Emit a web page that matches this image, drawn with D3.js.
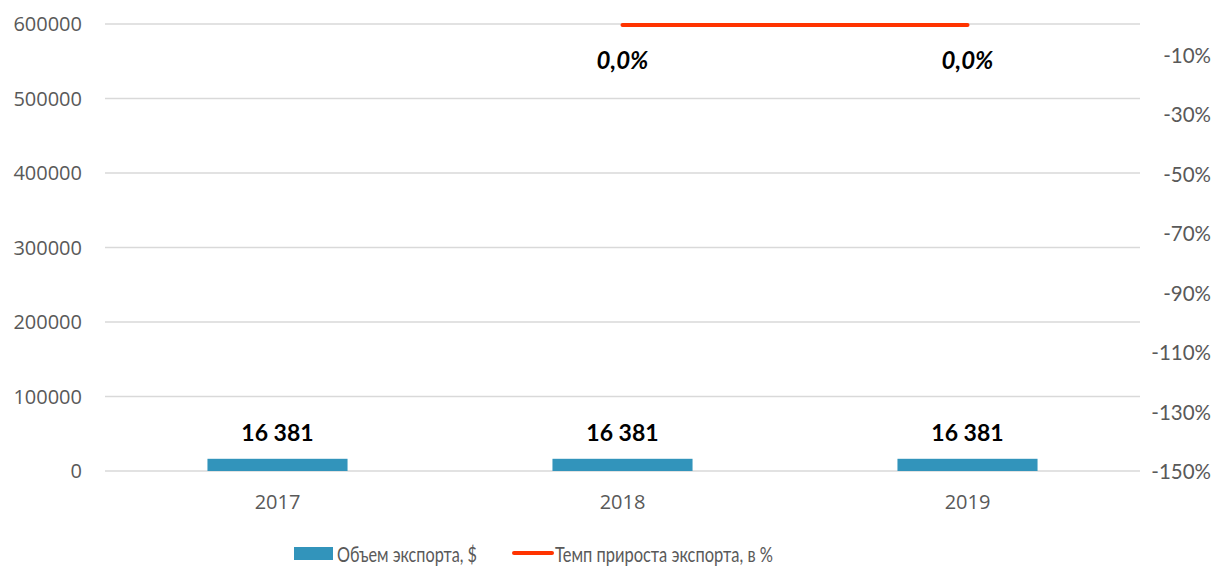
<!DOCTYPE html>
<html>
<head>
<meta charset="utf-8">
<script src="https://cdn.jsdelivr.net/npm/d3@7"></script>
<style>
  body { margin: 0; background: #fff; }
  svg { display: block; }
</style>
</head>
<body>
<div id="chart"></div>
<script>
// Data
const years = ['2017', '2018', '2019']
const exportVolume = [16381, 16381, 16381]
const growthRate = [null, 0.0, 0.0]
const leftTicks = [0, 100000, 200000, 300000, 400000, 500000, 600000]
const rightTicks = [-1.5, -1.3, -1.1, -0.9, -0.7, -0.5, -0.3, -0.1]
const seriesNames = ['Объем экспорта, $', 'Темп прироста экспорта, в %']

const width = 1225
const height = 567
const plot = { left: 105, right: 1140, top: 24, bottom: 471 }

const svg = d3.select('#chart')
  .append('svg')
  .attr('width', width)
  .attr('height', height)

// Scales
const x = d3.scaleBand()
  .domain(years)
  .range([plot.left, plot.right])
  .padding(0)

const yLeft = d3.scaleLinear()
  .domain([0, 600000])
  .range([plot.bottom, plot.top])

const yRight = d3.scaleLinear()
  .domain([-1.5, 0])
  .range([plot.bottom, plot.top + 1])

const barWidth = x.bandwidth() * 0.406

// Gridlines
svg.append('g')
  .selectAll('line')
  .data(leftTicks)
  .join('line')
  .attr('x1', plot.left)
  .attr('x2', plot.right)
  .attr('y1', d => yLeft(d))
  .attr('y2', d => yLeft(d))
  .attr('stroke', '#d9d9d9')
  .attr('stroke-width', 1.3)

// Left axis labels
svg.append('g')
  .selectAll('text')
  .data(leftTicks)
  .join('text')
  .attr('x', 82)
  .attr('y', d => yLeft(d))
  .attr('dy', '0.35em')
  .attr('text-anchor', 'end')
  .attr('font-family', 'Open Sans, sans-serif')
  .attr('font-size', 20)
  .attr('fill', '#595959')
  .text(d => d)

// Right axis labels
svg.append('g')
  .selectAll('text')
  .data(rightTicks)
  .join('text')
  .attr('x', 1211)
  .attr('y', d => yRight(d) + 1)
  .attr('dy', '0.35em')
  .attr('text-anchor', 'end')
  .attr('font-family', 'Lato, sans-serif')
  .attr('font-size', 20.5)
  .attr('fill', '#595959')
  .text(d => Math.round(d * 100) + '%')

// X labels
svg.append('g')
  .selectAll('text')
  .data(years)
  .join('text')
  .attr('x', d => x(d) + x.bandwidth() / 2)
  .attr('y', 502)
  .attr('dy', '0.35em')
  .attr('text-anchor', 'middle')
  .attr('font-family', 'Open Sans, sans-serif')
  .attr('font-size', 20)
  .attr('fill', '#595959')
  .text(d => d)

// Bars
svg.append('g')
  .selectAll('rect')
  .data(exportVolume)
  .join('rect')
  .attr('x', (d, i) => x(years[i]) + (x.bandwidth() - barWidth) / 2)
  .attr('y', d => yLeft(d))
  .attr('width', barWidth)
  .attr('height', d => yLeft(0) - yLeft(d))
  .attr('fill', '#3294bb')

// Bar labels
const fmt = d3.formatLocale({ decimal: ',', thousands: ' ', grouping: [3], currency: ['', ''] }).format(',')
svg.append('g')
  .selectAll('text')
  .data(exportVolume)
  .join('text')
  .attr('x', (d, i) => x(years[i]) + x.bandwidth() / 2)
  .attr('y', d => yLeft(d) - 26)
  .attr('dy', '0.35em')
  .attr('text-anchor', 'middle')
  .attr('font-family', 'Lato, sans-serif')
  .attr('font-weight', 'bold')
  .attr('font-size', 23)
  .attr('fill', '#000')
  .text(d => fmt(d))

// Growth line
const growthPoints = years.map((yr, i) => ({ yr, v: growthRate[i] }))
const line = d3.line()
  .defined(d => d.v !== null)
  .x(d => x(d.yr) + x.bandwidth() / 2)
  .y(d => yRight(d.v))

svg.append('path')
  .datum(growthPoints)
  .attr('d', line)
  .attr('fill', 'none')
  .attr('stroke', '#ff3300')
  .attr('stroke-width', 4)
  .attr('stroke-linecap', 'round')

// Growth labels
svg.append('g')
  .selectAll('text')
  .data(growthPoints.filter(d => d.v !== null))
  .join('text')
  .attr('x', d => x(d.yr) + x.bandwidth() / 2)
  .attr('y', d => yRight(d.v) + 36)
  .attr('dy', '0.35em')
  .attr('text-anchor', 'middle')
  .attr('font-family', 'Lato, sans-serif')
  .attr('font-weight', 'bold')
  .attr('font-style', 'italic')
  .attr('font-size', 24)
  .attr('fill', '#000')
  .text(d => d.v.toFixed(1).replace('.', ',') + '%')

// Legend
const legend = svg.append('g')
  .attr('font-family', 'Lato, sans-serif')
  .attr('font-size', 20.5)
  .attr('fill', '#595959')

legend.append('rect')
  .attr('x', 294)
  .attr('y', 547)
  .attr('width', 39)
  .attr('height', 13)
  .attr('fill', '#3294bb')

legend.append('text')
  .attr('x', 337)
  .attr('y', 555)
  .attr('dy', '0.35em')
  .attr('textLength', 140)
  .attr('lengthAdjust', 'spacingAndGlyphs')
  .text(seriesNames[0])

legend.append('line')
  .attr('x1', 514)
  .attr('x2', 552)
  .attr('y1', 553)
  .attr('y2', 553)
  .attr('stroke', '#ff3300')
  .attr('stroke-width', 4)
  .attr('stroke-linecap', 'round')

legend.append('text')
  .attr('x', 555)
  .attr('y', 555)
  .attr('dy', '0.35em')
  .attr('textLength', 218)
  .attr('lengthAdjust', 'spacingAndGlyphs')
  .text(seriesNames[1])
</script>
</body>
</html>
